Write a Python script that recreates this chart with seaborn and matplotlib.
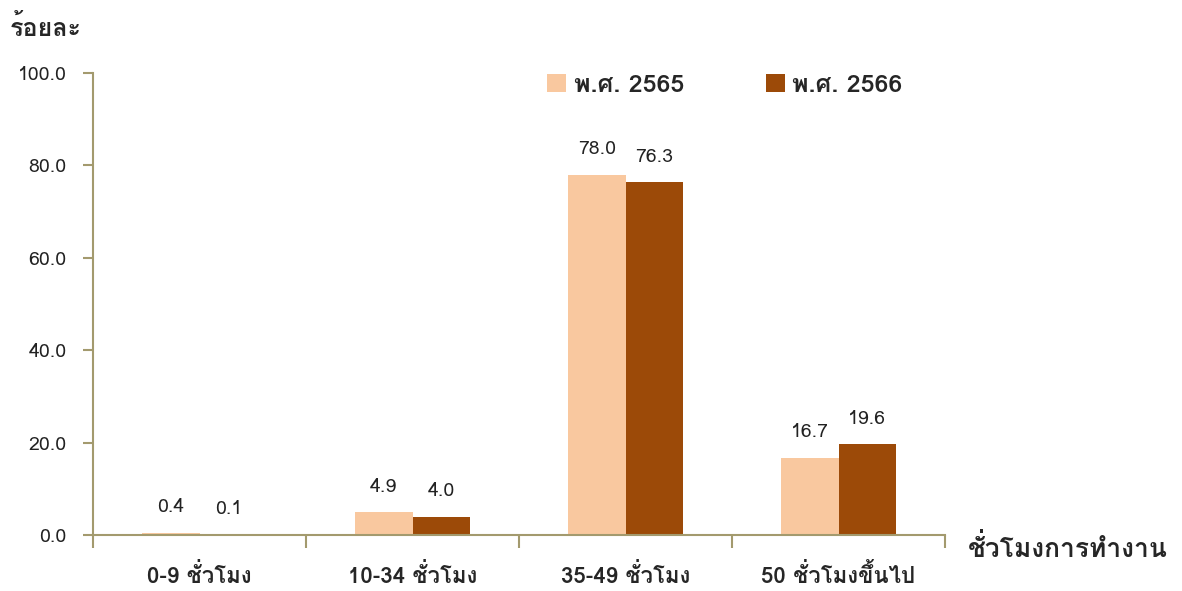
import matplotlib
matplotlib.use("Agg")
import matplotlib.pyplot as plt
import seaborn as sns
import pandas as pd
from matplotlib.patches import Patch

categories = ["0-9 ชั่วโมง", "10-34 ชั่วโมง", "35-49 ชั่วโมง", "50 ชั่วโมงขึ้นไป"]
series_names = ["พ.ศ. 2565", "พ.ศ. 2566"]
values_2565 = [0.4, 4.9, 78.0, 16.7]
values_2566 = [0.1, 4.0, 76.3, 19.6]
y_ticks = [0, 20, 40, 60, 80, 100]
colors = ["#F9C89F", "#9C4A08"]

sns.set_style("white")
FAM = ["Loma", "DejaVu Sans"]
plt.rcParams["font.family"] = FAM

df = pd.DataFrame({
    "cat": categories * 2,
    "year": [series_names[0]] * 4 + [series_names[1]] * 4,
    "val": values_2565 + values_2566,
})

fig = plt.figure(figsize=(11.82, 5.91), dpi=100)
ax = fig.add_axes([93 / 1182, 1 - 535 / 591, 852 / 1182, 462 / 591])
sns.barplot(data=df, x="cat", y="val", hue="year", palette=colors,
            width=0.54, ax=ax, saturation=1, legend=False, linewidth=0,
            edgecolor="none")

axis_c = "#A39A6E"
for s in ["top", "right"]:
    ax.spines[s].set_visible(False)
for s in ["left", "bottom"]:
    ax.spines[s].set_color(axis_c)
    ax.spines[s].set_linewidth(1.5)

ax.set_ylim(0, 100)
ax.set_xlim(-0.5, 3.5)
ax.set_yticks(y_ticks)
ax.set_yticklabels([f"{v:.1f}" for v in y_ticks])
ax.tick_params(axis="y", length=7, width=1.5, color=axis_c, direction="out",
               left=True, labelsize=14, labelcolor="#222222", pad=12)
ax.set_xticks([-0.5, 0.5, 1.5, 2.5, 3.5])
ax.set_xticklabels([])
ax.tick_params(axis="x", which="major", length=9, width=1.5, color=axis_c,
               direction="out", bottom=True)
ax.set_xticks(range(len(categories)), minor=True)
ax.set_xticklabels(categories, minor=True, fontsize=16, fontweight="bold")
ax.tick_params(axis="x", which="minor", length=0, pad=20)
ax.set_xlabel("")
ax.set_ylabel("")

for cont in ax.containers:
    ax.bar_label(cont, fmt="%.1f", padding=12, fontsize=14, color="#222222")

fig.text(10 / 1182, 1 - 28 / 591, "ร้อยละ", fontsize=18, fontweight="bold",
         ha="left", va="center")
fig.text(968 / 1182, 1 - 548 / 591, "ชั่วโมงการทำงาน", fontsize=19,
         fontweight="bold", ha="left", va="center")

handles = [Patch(facecolor=c, edgecolor="none") for c in colors]
fig.legend(handles, series_names, loc="center", ncol=2,
           bbox_to_anchor=(725 / 1182, 1 - 85 / 591), frameon=False,
           prop={"size": 18, "weight": "bold"}, handlelength=0.75,
           handleheight=0.75, handletextpad=0.3, columnspacing=3.3)

fig.savefig("out.png", dpi=100)
